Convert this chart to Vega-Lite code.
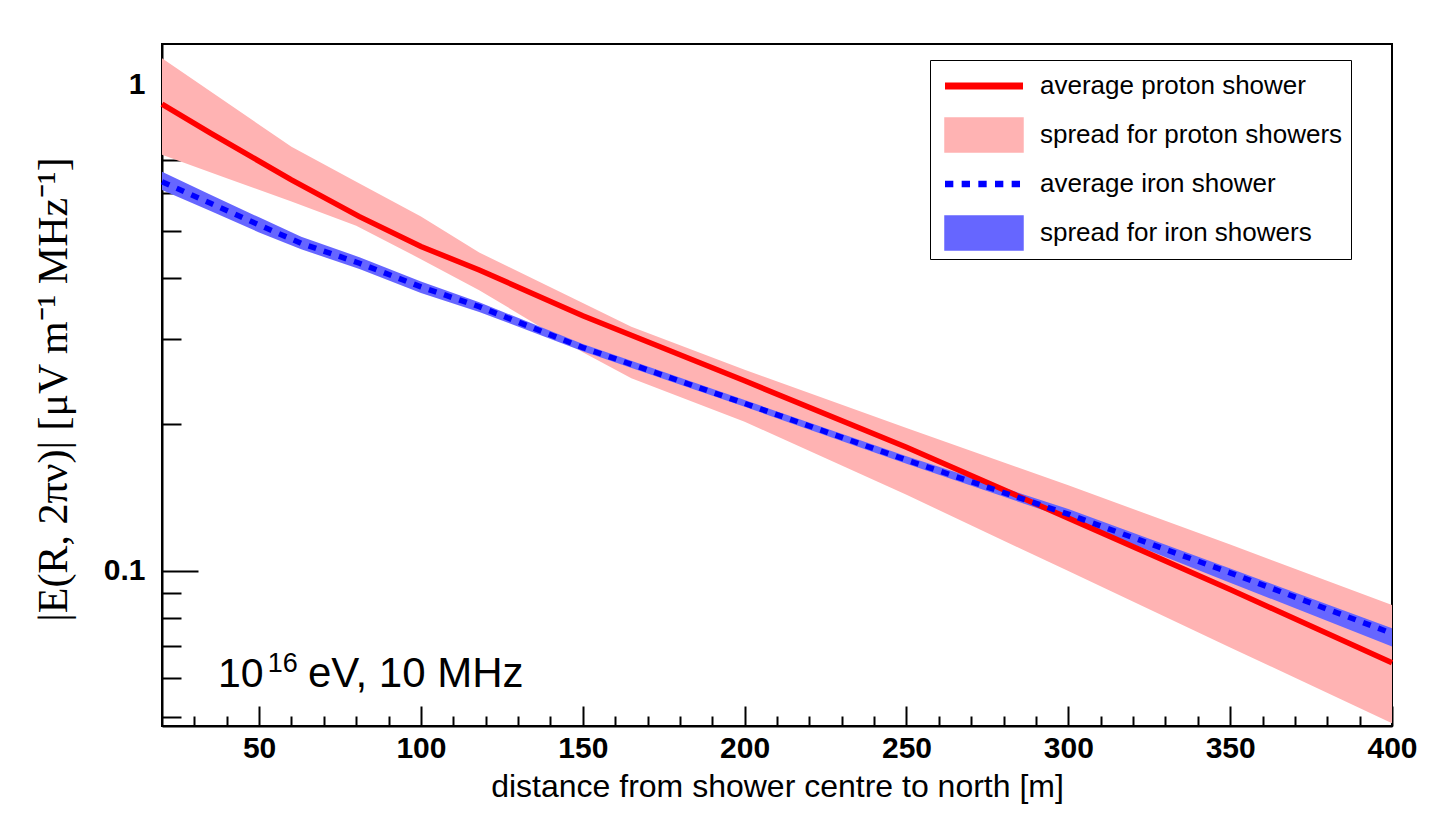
{
  "$schema": "https://vega.github.io/schema/vega-lite/v6.json",
  "width": 1230,
  "height": 682,
  "autosize": {"type": "none"},
  "padding": {"left": 162, "top": 44, "right": 45, "bottom": 97},
  "background": "white",
  "config": {
    "view": {"stroke": "black", "strokeWidth": 2},
    "axis": {"grid": false, "domainColor": "black", "domainWidth": 2, "tickColor": "black", "tickWidth": 2, "labelColor": "black", "titleColor": "black"}
  },
  "datasets": {
    "protonBand": [
      {"d": 20, "lo": 0.718, "hi": 1.135, "series": "spread for proton showers"},
      {"d": 40, "lo": 0.643, "hi": 0.920, "series": "spread for proton showers"},
      {"d": 60, "lo": 0.5755, "hi": 0.746, "series": "spread for proton showers"},
      {"d": 80, "lo": 0.513, "hi": 0.632, "series": "spread for proton showers"},
      {"d": 100, "lo": 0.438, "hi": 0.536, "series": "spread for proton showers"},
      {"d": 118, "lo": 0.378, "hi": 0.452, "series": "spread for proton showers"},
      {"d": 150, "lo": 0.2818, "hi": 0.3557, "series": "spread for proton showers"},
      {"d": 165, "lo": 0.249, "hi": 0.318, "series": "spread for proton showers"},
      {"d": 200, "lo": 0.2027, "hi": 0.2593, "series": "spread for proton showers"},
      {"d": 250, "lo": 0.1433, "hi": 0.1967, "series": "spread for proton showers"},
      {"d": 300, "lo": 0.0998, "hi": 0.1499, "series": "spread for proton showers"},
      {"d": 350, "lo": 0.0695, "hi": 0.1132, "series": "spread for proton showers"},
      {"d": 400, "lo": 0.0485, "hi": 0.085, "series": "spread for proton showers"}
    ],
    "ironBand": [
      {"d": 20, "lo": 0.608, "hi": 0.663, "series": "spread for iron showers"},
      {"d": 35, "lo": 0.550, "hi": 0.594, "series": "spread for iron showers"},
      {"d": 50, "lo": 0.497, "hi": 0.534, "series": "spread for iron showers"},
      {"d": 63, "lo": 0.459, "hi": 0.487, "series": "spread for iron showers"},
      {"d": 81, "lo": 0.418, "hi": 0.442, "series": "spread for iron showers"},
      {"d": 100, "lo": 0.373, "hi": 0.394, "series": "spread for iron showers"},
      {"d": 118, "lo": 0.341, "hi": 0.357, "series": "spread for iron showers"},
      {"d": 150, "lo": 0.283, "hi": 0.293, "series": "spread for iron showers"},
      {"d": 200, "lo": 0.2175, "hi": 0.2245, "series": "spread for iron showers"},
      {"d": 250, "lo": 0.166, "hi": 0.172, "series": "spread for iron showers"},
      {"d": 300, "lo": 0.128, "hi": 0.134, "series": "spread for iron showers"},
      {"d": 350, "lo": 0.0945, "hi": 0.101, "series": "spread for iron showers"},
      {"d": 400, "lo": 0.0698, "hi": 0.0761, "series": "spread for iron showers"}
    ],
    "protonMean": [
      {"d": 20, "v": 0.913, "series": "average proton shower"},
      {"d": 35, "v": 0.796, "series": "average proton shower"},
      {"d": 60, "v": 0.6375, "series": "average proton shower"},
      {"d": 81, "v": 0.5357, "series": "average proton shower"},
      {"d": 100, "v": 0.465, "series": "average proton shower"},
      {"d": 118, "v": 0.416, "series": "average proton shower"},
      {"d": 150, "v": 0.335, "series": "average proton shower"},
      {"d": 200, "v": 0.246, "series": "average proton shower"},
      {"d": 250, "v": 0.1795, "series": "average proton shower"},
      {"d": 300, "v": 0.1283, "series": "average proton shower"},
      {"d": 350, "v": 0.0915, "series": "average proton shower"},
      {"d": 400, "v": 0.0646, "series": "average proton shower"}
    ],
    "ironMean": [
      {"d": 20, "v": 0.632, "series": "average iron shower"},
      {"d": 35, "v": 0.571, "series": "average iron shower"},
      {"d": 50, "v": 0.515, "series": "average iron shower"},
      {"d": 63, "v": 0.472, "series": "average iron shower"},
      {"d": 81, "v": 0.4295, "series": "average iron shower"},
      {"d": 100, "v": 0.384, "series": "average iron shower"},
      {"d": 118, "v": 0.3496, "series": "average iron shower"},
      {"d": 150, "v": 0.288, "series": "average iron shower"},
      {"d": 200, "v": 0.221, "series": "average iron shower"},
      {"d": 250, "v": 0.169, "series": "average iron shower"},
      {"d": 300, "v": 0.1307, "series": "average iron shower"},
      {"d": 350, "v": 0.099, "series": "average iron shower"},
      {"d": 400, "v": 0.0743, "series": "average iron shower"}
    ],
    "note": [
      {"part": "base", "text": "10"},
      {"part": "exp", "text": "16"},
      {"part": "rest", "text": "eV, 10 MHz"}
    ]
  },
  "layer": [
    {
      "data": {"name": "protonBand"},
      "mark": {"type": "area", "opacity": 1, "stroke": "black"},
      "encoding": {
        "x": {
          "field": "d", "type": "quantitative",
          "scale": {"type": "linear", "domain": [20, 400], "nice": false, "zero": false},
          "axis": {
            "orient": "bottom", "values": [50, 100, 150, 200, 250, 300, 350, 400], "ticks": false, "format": "d",
            "labelFont": "Liberation Sans", "labelFontSize": 30, "labelFontWeight": "bold", "labelPadding": 7,
            "labelFlush": false, "labelOverlap": false,
            "title": "distance from shower centre to north [m]", "titleFont": "Liberation Sans", "titleFontSize": 32,
            "titleFontWeight": "normal", "titleX": 615, "titleY": 70, "titleAlign": "center", "titleBaseline": "alphabetic"
          }
        },
        "y": {
          "field": "lo", "type": "quantitative",
          "scale": {"type": "log", "domain": [0.04789, 1.2145], "nice": false},
          "axis": {
            "orient": "left", "values": [0.1, 1], "ticks": false, "format": "~g",
            "labelFont": "Liberation Sans", "labelFontSize": 30, "labelFontWeight": "bold", "labelPadding": 17,
            "labelFlush": false, "labelOverlap": false,
            "title": "|E(R, 2πν)| [μV m⁻¹ MHz⁻¹]", "titleFont": "Liberation Serif", "titleFontSize": 42,
            "titleFontWeight": "normal", "titleAngle": -90, "titleX": -96, "titleY": 345,
            "titleAlign": "center", "titleBaseline": "alphabetic"
          }
        },
        "y2": {"field": "hi"},
        "strokeOpacity": {"value": 0},
        "color": {
          "field": "series", "type": "nominal",
          "scale": {
            "domain": ["average proton shower", "spread for proton showers", "average iron shower", "spread for iron showers"],
            "range": ["#ff0000", "#ffb3b3", "#0000ff", "#6666ff"]
          },
          "legend": {
            "title": null, "orient": "none", "legendX": 768, "legendY": 16, "direction": "vertical",
            "padding": 8, "fillColor": "white", "strokeColor": "black",
            "symbolSize": 1156, "symbolOffset": 33,
            "symbolStrokeColor": "black",
            "symbolStrokeWidth": {"expr": "(datum.value === 'spread for proton showers' || datum.value === 'spread for iron showers') ? 1.5 : 0"},
            "symbolType": {"expr": "datum.value === 'average proton shower' ? 'M-2.294,-0.2H2.294V0.2H-2.294Z' : (datum.value === 'average iron shower' ? 'M-2.294,-0.196H-1.804V0.196H-2.294ZM-1.314,-0.196H-0.824V0.196H-1.314ZM-0.333,-0.196H0.157V0.196H-0.333ZM0.647,-0.196H1.137V0.196H0.647ZM1.627,-0.196H2.118V0.196H1.627Z' : 'M-2.294,-1H2.294V1H-2.294Z')"},
            "symbolOpacity": 1,
            "clipHeight": 36, "rowPadding": 13, "labelOffset": 43,
            "labelFont": "Liberation Sans", "labelFontSize": 26, "labelColor": "black", "labelLimit": 500
          }
        }
      }
    },
    {
      "data": {"name": "ironBand"},
      "mark": {"type": "area", "opacity": 1},
      "encoding": {
        "x": {
          "field": "d", "type": "quantitative",
          "axis": {"orient": "bottom", "values": [50, 100, 150, 200, 250, 300, 350, 400], "labels": false, "domain": false, "tickSize": -20, "title": null}
        },
        "y": {
          "field": "lo", "type": "quantitative",
          "axis": {"orient": "left", "values": [0.1, 1], "labels": false, "domain": false, "tickSize": -36, "title": null}
        },
        "y2": {"field": "hi"},
        "color": {"field": "series", "type": "nominal", "legend": null}
      }
    },
    {
      "data": {"name": "protonMean"},
      "mark": {"type": "line", "strokeWidth": 5.5},
      "encoding": {
        "x": {
          "field": "d", "type": "quantitative",
          "axis": {"orient": "bottom", "values": [30, 40, 60, 70, 80, 90, 110, 120, 130, 140, 160, 170, 180, 190, 210, 220, 230, 240, 260, 270, 280, 290, 310, 320, 330, 340, 360, 370, 380, 390], "labels": false, "domain": false, "tickSize": -10, "title": null}
        },
        "y": {
          "field": "v", "type": "quantitative",
          "axis": {"orient": "left", "values": [0.05, 0.06, 0.07, 0.08, 0.09, 0.2, 0.3, 0.4, 0.5, 0.6, 0.7, 0.8, 0.9], "labels": false, "domain": false, "tickSize": -19, "title": null}
        },
        "color": {"field": "series", "type": "nominal", "legend": null}
      }
    },
    {
      "data": {"name": "ironMean"},
      "mark": {"type": "line", "strokeWidth": 5.5, "strokeDash": [8, 8]},
      "encoding": {
        "x": {"field": "d", "type": "quantitative", "axis": null},
        "y": {"field": "v", "type": "quantitative", "axis": null},
        "color": {"field": "series", "type": "nominal", "legend": null}
      }
    },
    {
      "data": {"name": "note"},
      "transform": [{"filter": "datum.part === 'base'"}],
      "mark": {"type": "text", "font": "Liberation Sans", "fontSize": 41, "align": "left", "baseline": "alphabetic", "color": "black"},
      "encoding": {
        "x": {"datum": 37.3, "type": "quantitative", "axis": null},
        "y": {"datum": 0.0577, "type": "quantitative", "axis": null},
        "text": {"field": "text"}
      }
    },
    {
      "data": {"name": "note"},
      "transform": [{"filter": "datum.part === 'exp'"}],
      "mark": {"type": "text", "font": "Liberation Sans", "fontSize": 27, "align": "left", "baseline": "alphabetic", "color": "black"},
      "encoding": {
        "x": {"datum": 52.7, "type": "quantitative", "axis": null},
        "y": {"datum": 0.062, "type": "quantitative", "axis": null},
        "text": {"field": "text"}
      }
    },
    {
      "data": {"name": "note"},
      "transform": [{"filter": "datum.part === 'rest'"}],
      "mark": {"type": "text", "font": "Liberation Sans", "fontSize": 42, "align": "left", "baseline": "alphabetic", "color": "black"},
      "encoding": {
        "x": {"datum": 65.1, "type": "quantitative", "axis": null},
        "y": {"datum": 0.0577, "type": "quantitative", "axis": null},
        "text": {"field": "text"}
      }
    }
  ],
  "resolve": {"axis": {"x": "independent", "y": "independent"}}
}
